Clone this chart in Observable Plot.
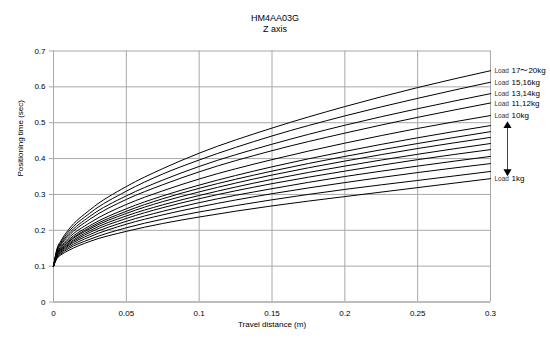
<!DOCTYPE html>
<html>
<head>
<meta charset="utf-8">
<script src="https://cdn.jsdelivr.net/npm/d3@7"></script>
<script src="https://cdn.jsdelivr.net/npm/@observablehq/plot@0.6"></script>
<style>
  body { margin: 0; background: #fff; }
  #title { width: 550px; height: 25px; padding-top: 13px; text-align: center; font: 9px "Liberation Sans", Arial, sans-serif; line-height: 11px; color: #000; }
</style>
</head>
<body>
<div id="title">HM4AA03G<br>Z axis</div>
<div id="chart"></div>
<script>
// Travel distance (m)
const xs = [0, 0.0025, 0.005, 0.01, 0.025, 0.05, 0.075, 0.1, 0.15, 0.2, 0.25, 0.3];
// Positioning time (sec) per load
const t1kg   = [0.1, 0.122, 0.131, 0.143, 0.169, 0.197, 0.219, 0.237, 0.268, 0.294, 0.319, 0.344];
const t2kg   = [0.1, 0.124, 0.134, 0.148, 0.175, 0.207, 0.231, 0.251, 0.285, 0.314, 0.339, 0.364];
const t3kg   = [0.1, 0.126, 0.137, 0.152, 0.182, 0.217, 0.243, 0.265, 0.302, 0.333, 0.361, 0.386];
const t4kg   = [0.1, 0.128, 0.139, 0.156, 0.188, 0.225, 0.253, 0.277, 0.316, 0.350, 0.379, 0.406];
const t5kg   = [0.1, 0.130, 0.142, 0.159, 0.194, 0.233, 0.263, 0.288, 0.330, 0.365, 0.397, 0.425];
const t6kg   = [0.1, 0.131, 0.144, 0.162, 0.199, 0.240, 0.271, 0.297, 0.342, 0.379, 0.412, 0.442];
const t7kg   = [0.1, 0.133, 0.146, 0.166, 0.204, 0.247, 0.280, 0.307, 0.354, 0.393, 0.428, 0.459];
const t8kg   = [0.1, 0.134, 0.148, 0.168, 0.208, 0.253, 0.288, 0.317, 0.365, 0.406, 0.442, 0.475];
const t9kg   = [0.1, 0.136, 0.151, 0.172, 0.213, 0.260, 0.296, 0.326, 0.377, 0.420, 0.458, 0.492];
const t10kg  = [0.1, 0.138, 0.154, 0.177, 0.221, 0.272, 0.310, 0.343, 0.397, 0.443, 0.484, 0.520];
const t11_12 = [0.1, 0.142, 0.159, 0.183, 0.231, 0.286, 0.327, 0.363, 0.422, 0.471, 0.515, 0.555];
const t13_14 = [0.1, 0.144, 0.162, 0.188, 0.239, 0.296, 0.340, 0.378, 0.440, 0.493, 0.539, 0.581];
const t15_16 = [0.1, 0.147, 0.166, 0.194, 0.248, 0.309, 0.357, 0.396, 0.463, 0.519, 0.568, 0.613];
const t17_20 = [0.1, 0.150, 0.170, 0.200, 0.257, 0.322, 0.372, 0.415, 0.485, 0.545, 0.598, 0.645];

const seriesNames = ["1kg","2kg","3kg","4kg","5kg","6kg","7kg","8kg","9kg","10kg","11,12kg","13,14kg","15,16kg","17〜20kg"];
const seriesValues = [t1kg,t2kg,t3kg,t4kg,t5kg,t6kg,t7kg,t8kg,t9kg,t10kg,t11_12,t13_14,t15_16,t17_20];
const labelled = ["1kg","10kg","11,12kg","13,14kg","15,16kg","17〜20kg"];

const xTicks = [0, 0.05, 0.1, 0.15, 0.2, 0.25, 0.3];
const yTicks = [0, 0.1, 0.2, 0.3, 0.4, 0.5, 0.6, 0.7];
// load-range arrow (from 10kg label to 1kg label), positioning time
const arrowRange = [0.497, 0.358];

const rows = [];
seriesNames.forEach((name, i) => {
  xs.forEach((x, j) => rows.push({load: name, x, t: seriesValues[i][j]}));
});
const labelRows = seriesNames
  .map((name, i) => ({load: name, x: xs[xs.length - 1], t: seriesValues[i][xs.length - 1]}))
  .filter(d => labelled.includes(d.load));

const font = '"Liberation Sans", Arial, sans-serif';
const grid = "#a8a8a8";

const plot = Plot.plot({
  width: 550,
  height: 314,
  marginTop: 12.5,
  marginBottom: 50.5,
  marginLeft: 53,
  marginRight: 60,
  style: {fontFamily: font, fontSize: "8px", color: "#000", background: "#fff"},
  x: {domain: [0, 0.3]},
  y: {domain: [0, 0.7]},
  marks: [
    Plot.gridX(xTicks, {stroke: grid, strokeOpacity: 1}),
    Plot.gridY(yTicks, {stroke: grid, strokeOpacity: 1}),
    Plot.axisX(xTicks, {tickSize: 0, tickPadding: 8, label: null, tickFormat: d => String(d), fontSize: 8}),
    Plot.axisY(yTicks, {tickSize: 4, tickPadding: 4, stroke: grid, label: null, tickFormat: d => String(d), fontSize: 8}),
    Plot.ruleY([0], {stroke: grid}),
    Plot.ruleX([0], {stroke: grid}),
    Plot.line(rows, {x: "x", y: "t", z: "load", stroke: "#000", strokeWidth: 1, curve: "monotone-x"}),
    Plot.text(labelRows, {x: "x", y: "t", text: () => "Load", dx: 4, dy: 0.5, textAnchor: "start", fontSize: 6.5, fill: "#333"}),
    Plot.text(labelRows, {x: "x", y: "t", text: "load", dx: 21, dy: 0, textAnchor: "start", fontSize: 8, fill: "#000"}),
    Plot.ruleX([{x: 0.3, y1: arrowRange[0], y2: arrowRange[1]}], {x: "x", y1: "y1", y2: "y2", dx: 17, stroke: "#444", strokeWidth: 1}),
    Plot.dot([{x: 0.3, y: arrowRange[0]}], {x: "x", y: "y", dx: 17, dy: 2, symbol: "triangle", r: 3, fill: "#000", stroke: "none"}),
    Plot.dot([{x: 0.3, y: arrowRange[1]}], {x: "x", y: "y", dx: 17, dy: -2, symbol: "triangle", r: 3, fill: "#000", stroke: "none", rotate: 180}),
    Plot.text(["Travel distance (m)"], {frameAnchor: "bottom", dy: 24.5, fontSize: 8, text: d => d}),
    Plot.text(["Positioning time (sec)"], {frameAnchor: "left", dx: -33, rotate: -90, fontSize: 8, text: d => d})
  ]
});
document.getElementById("chart").appendChild(plot);
</script>
</body>
</html>
